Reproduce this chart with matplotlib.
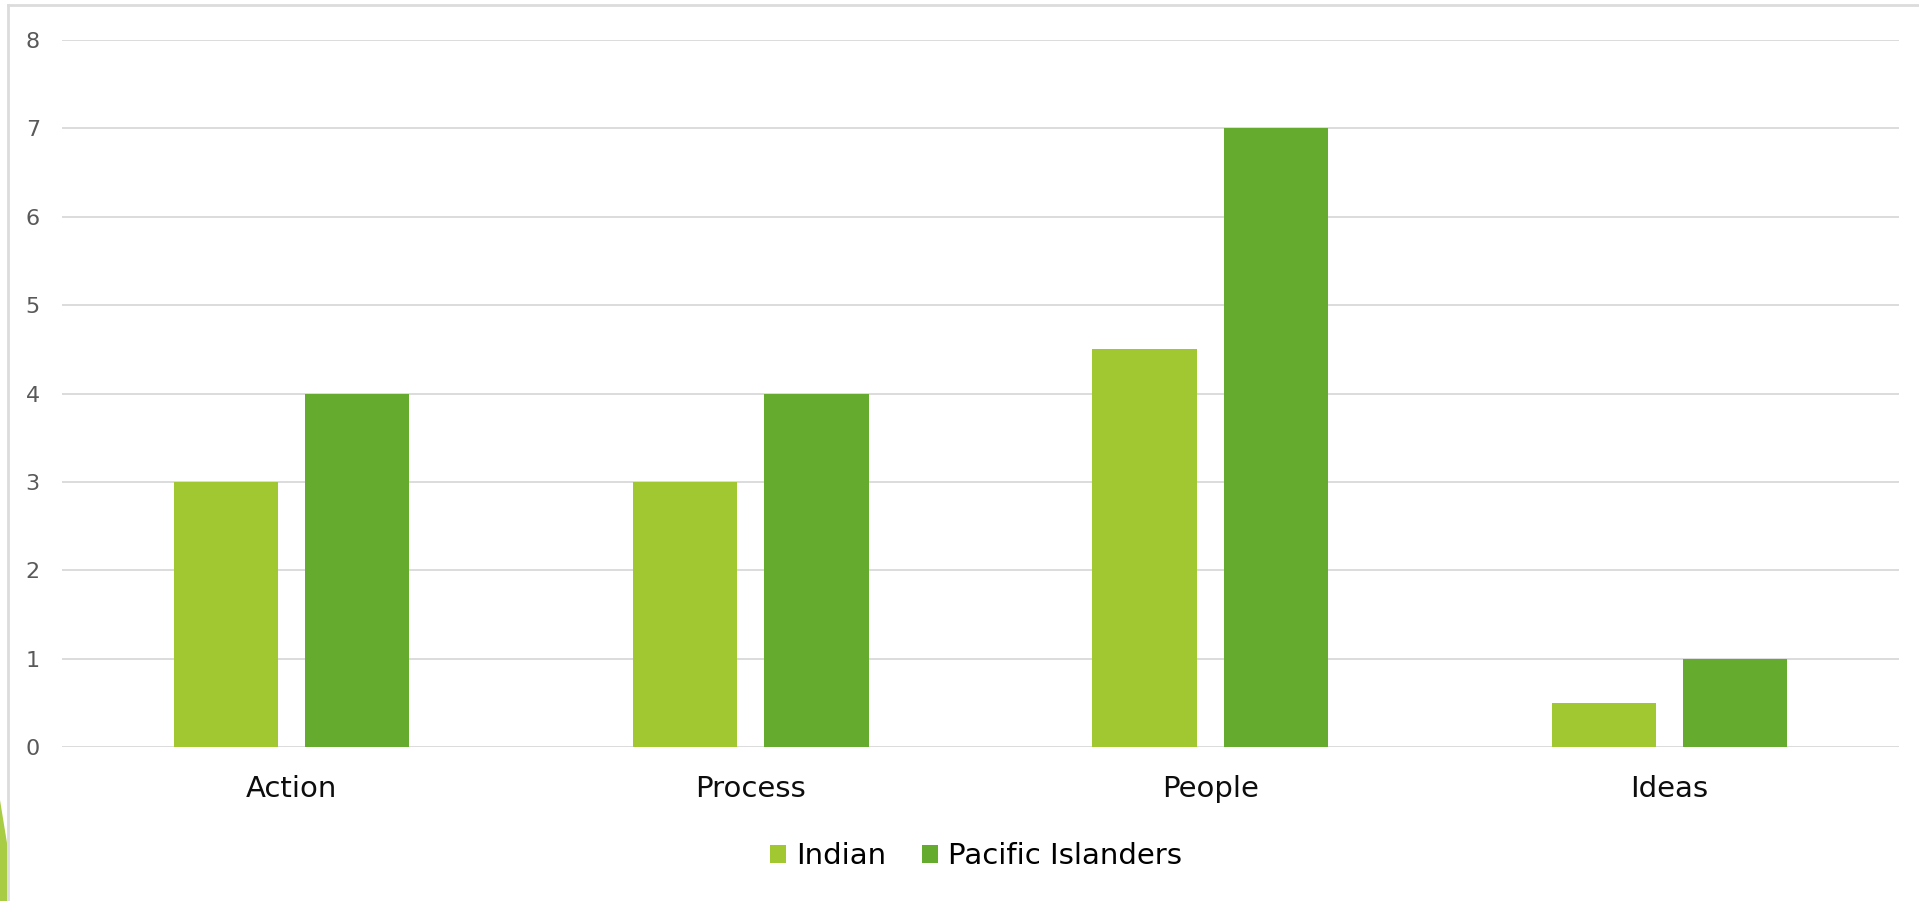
import matplotlib
matplotlib.use('Agg')
import matplotlib.pyplot as plt
from matplotlib.patches import Polygon
from matplotlib.lines import Line2D
import numpy as np

categories = ['Action', 'Process', 'People', 'Ideas']
indian = [3, 3, 4.5, 0.5]
pacific = [4, 4, 7, 1]
series_names = ['Indian', 'Pacific Islanders']

light_green = '#A2C831'
dark_green = '#65AC2E'
grid_grey = '#DCDCDC'

fig = plt.figure(figsize=(19.19, 9.01), dpi=100)
ax = fig.add_axes([62 / 1919, 1 - 747 / 901, 1837 / 1919, 707 / 901])

x = np.arange(len(categories))
w = 0.227
off = 0.143
ax.bar(x - off, indian, w, color=light_green, label=series_names[0], zorder=3)
ax.bar(x + off, pacific, w, color=dark_green, label=series_names[1], zorder=3)

ax.set_xlim(-0.5, 3.5)
ax.set_ylim(0, 8)
ax.set_yticks(range(0, 9))
ax.yaxis.grid(True, color=grid_grey, lw=1.4, zorder=0)
ax.set_axisbelow(True)
for s in ax.spines.values():
    s.set_visible(False)

ax.set_xticks(x)
ax.set_xticklabels(categories, fontsize=21, color='#0D0D0D')
ax.tick_params(axis='x', length=0, pad=20)
ax.tick_params(axis='y', length=0, pad=16, labelsize=16, labelcolor='#595959')

ax.legend(loc='center', bbox_to_anchor=(976 / 1919, 1 - 856 / 901),
          bbox_transform=fig.transFigure, ncol=2, frameon=False,
          fontsize=21, handlelength=0.57, handleheight=0.57,
          handletextpad=0.35, columnspacing=1.2)

# slide frame and corner accent
fig.add_artist(Line2D([8 / 1919, 8 / 1919], [0, 1 - 5 / 901],
                      transform=fig.transFigure, color=grid_grey, lw=2))
fig.add_artist(Line2D([8 / 1919, 1], [1 - 5 / 901, 1 - 5 / 901],
                      transform=fig.transFigure, color=grid_grey, lw=2))
fig.add_artist(Polygon([[0, 1 - 800 / 901], [7 / 1919, 1 - 843 / 901],
                        [7 / 1919, 0], [0, 0]], closed=True,
                       transform=fig.transFigure, color='#A9CC45', lw=0))

fig.savefig('out.png', dpi=100)
